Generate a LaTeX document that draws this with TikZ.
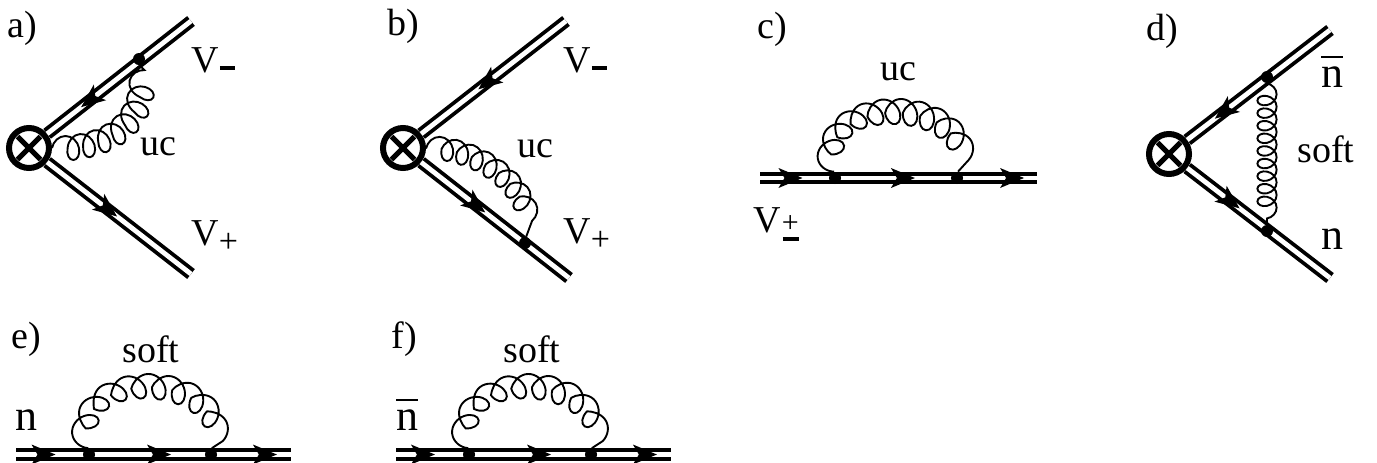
\documentclass[tikz,border=0pt]{standalone}
\usepackage{fontspec}
\setmainfont{Liberation Serif}
\usetikzlibrary{decorations.pathmorphing,decorations.markings,shapes.misc}
\newcommand{\tipshape}{\fill (-6pt,-5pt) -- (6pt,0pt) -- (-6pt,5pt) -- (-3pt,0pt) -- cycle;}
\newcommand{\Vminus}{V\kern0.5pt\rule[0.8pt]{7.5pt}{2pt}}
\newcommand{\Vplus}{V\raisebox{-3.5pt}{\fontsize{17}{17}\selectfont +}}
\newcommand{\Vpm}{V\kern0.5pt\fontsize{15}{15}\selectfont +\kern-8pt\rule[-4.5pt]{8pt}{2pt}}
\newcommand{\nbar}{\rlap{\rule[14.5pt]{11pt}{1.2pt}}n}

\begin{document}
\begin{tikzpicture}[x=0.5pt, y=-0.5pt,
  fline/.style={draw, line width=1.9pt, double, double distance=2.4pt},
  tipat/.style={postaction={decorate, decoration={markings, mark=at position #1 with {\tipshape}}}},
  insertion/.style={circle, draw, line width=3pt, inner sep=0pt, minimum size=20pt},
  crossmark/.style={cross out, draw, line width=2.5pt, inner sep=0pt, minimum size=9pt},
  vertexdot/.style={circle, fill, inner sep=0pt, minimum size=6pt},
  gluon/.style 2 args={draw, line width=0.95pt, decorate, decoration={coil, aspect=0.8, amplitude=#1, segment length=#2}},
  tag/.style={anchor=base west, inner sep=0pt, font=\fontsize{19}{21}\selectfont},
  bigtag/.style={anchor=base west, inner sep=0pt, font=\fontsize{22}{24}\selectfont}
]
\useasboundingbox (0,0) rectangle (1377,462);

\node[insertion] (opa) at (29,148) {};
\node[crossmark] (crossa) at (opa) {};
\coordinate (aup) at (191,21);
\coordinate (adown) at (191,274);
\draw[fline, tipat=0.70] (aup) -- (opa);
\draw[fline, tipat=0.42] (opa) -- (adown);
\node[vertexdot] (va) at (139,59) {};
\draw[gluon={6pt}{7.8pt}] (opa) .. controls (105,148) and (146,125) .. (va);
\node[tag] (labela) at (7,37) {a)};
\node[tag] (ucA) at (140,155) {uc};
\node[tag] (vma) at (191,72) {\Vminus};
\node[tag] (vpa) at (191,245) {\Vplus};

\node[insertion] (opb) at (403,148) {};
\node[crossmark] (crossb) at (opb) {};
\coordinate (bup) at (566,21);
\coordinate (bdown) at (569,278);
\draw[fline, tipat=0.54] (bup) -- (opb);
\draw[fline, tipat=0.37] (opb) -- (bdown);
\node[vertexdot] (vb) at (525,243) {};
\draw[gluon={6pt}{7.8pt}] (opb) .. controls (488,150) and (534,195) .. (vb);
\node[tag] (labelb) at (387,35) {b)};
\node[tag] (ucB) at (517,157) {uc};
\node[tag] (vmb) at (563,72) {\Vminus};
\node[tag] (vpb) at (563,243) {\Vplus};

\coordinate (cin) at (760,178);
\coordinate (cout) at (1037,178);
\draw[fline, tipat=0.11, tipat=0.516, tipat=0.91] (cin) -- (cout);
\node[vertexdot] (vc1) at (835,178) {};
\node[vertexdot] (vc2) at (957,178) {};
\draw[gluon={7pt}{8.7pt}] (vc1) .. controls (822,95) and (970,95) .. (vc2);
\node[tag] (labelc) at (757,38) {c)};
\node[tag] (ucC) at (880,80) {uc};
\node[tag] (vpmc) at (753,232) {\Vpm};

\node[insertion] (opd) at (1169,154) {};
\node[crossmark] (crossd) at (opd) {};
\coordinate (dup) at (1330,30);
\coordinate (ddown) at (1330,278);
\draw[fline, tipat=0.74] (dup) -- (opd);
\draw[fline, tipat=0.30] (opd) -- (ddown);
\node[vertexdot] (vd1) at (1267,77) {};
\node[vertexdot] (vd2) at (1267,231) {};
\draw[gluon={4.8pt}{6.3pt}] (vd1) -- (vd2);
\node[tag] (labeld) at (1146,40) {d)};
\node[tag] (softd) at (1297,162) {soft};
\node[bigtag] (nbard) at (1321,87) {\nbar};
\node[bigtag] (nd) at (1321,249) {n};

\coordinate (ein) at (16,454.5);
\coordinate (eout) at (291,454.5);
\draw[fline, tipat=0.10, tipat=0.52, tipat=0.905] (ein) -- (eout);
\node[vertexdot] (ve1) at (89,454.5) {};
\node[vertexdot] (ve2) at (211,454.5) {};
\draw[gluon={7pt}{10pt}] (ve1) .. controls (78,370) and (222,370) .. (ve2);
\node[tag] (labele) at (11,348) {e)};
\node[tag] (softe) at (122,362) {soft};
\node[bigtag] (ne) at (15,430) {n};

\coordinate (fin) at (396,454.5);
\coordinate (fout) at (671,454.5);
\draw[fline, tipat=0.098, tipat=0.52, tipat=0.905] (fin) -- (fout);
\node[vertexdot] (vf1) at (469,454.5) {};
\node[vertexdot] (vf2) at (591,454.5) {};
\draw[gluon={7pt}{10pt}] (vf1) .. controls (458,370) and (602,370) .. (vf2);
\node[tag] (labelf) at (391,348) {f)};
\node[tag] (softf) at (503,362) {soft};
\node[bigtag] (nbarf) at (396,430) {\nbar};
\end{tikzpicture}
\end{document}
